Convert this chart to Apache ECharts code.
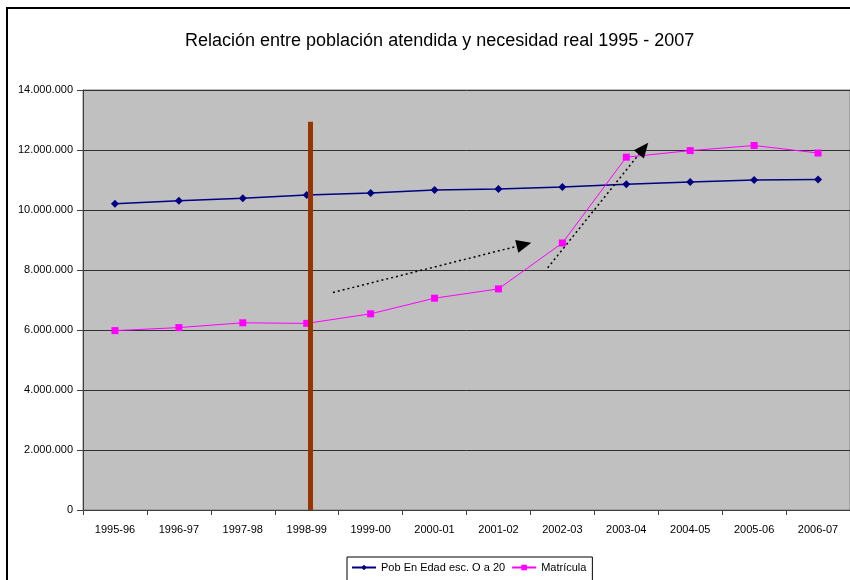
<!DOCTYPE html>
<html><head><meta charset="utf-8">
<script src="https://cdn.jsdelivr.net/npm/echarts@6/dist/echarts.min.js"></script>
<style>html,body{margin:0;padding:0;background:#fff}#c{width:850px;height:580px}</style>
</head><body><div id="c"></div>
<script>
var titleText = 'Relación entre población atendida y necesidad real 1995 - 2007';
var categories = ['1995-96','1996-97','1997-98','1998-99','1999-00','2000-01','2001-02','2002-03','2003-04','2004-05','2005-06','2006-07'];
var pobName = 'Pob En Edad esc. O a 20';
var pobValues = [10210000,10310000,10390000,10500000,10570000,10670000,10700000,10770000,10860000,10930000,11000000,11020000];
var matName = 'Matrícula';
var matValues = [5980000,6080000,6240000,6220000,6540000,7060000,7370000,8900000,11760000,11980000,12150000,11900000];
var yTicks = [0,2000000,4000000,6000000,8000000,10000000,12000000,14000000];
// annotations in (category-position, value) units; category i is centred at i+0.5
var brownBar = [[3.55,0],[3.55,12940000]];
var arrow1 = [[3.91,7250000],[6.90,8850000]];
var arrow2 = [[7.27,8070000],[8.77,12050000]];

function fmt(v){ return String(v).replace(/\B(?=(\d{3})+(?!\d))/g,'.'); }

var chart = echarts.init(document.getElementById('c'), null, {renderer:'canvas'});
var font = 'Liberation Sans, Arial, sans-serif';
chart.setOption({
  animation:false,
  backgroundColor:'#ffffff',
  textStyle:{fontFamily:font},
  title:{text:titleText,left:180,top:27,
    textStyle:{fontFamily:font,fontSize:18,fontWeight:'normal',color:'#000'}},
  graphic:[{type:'rect',shape:{x:7,y:8,width:880,height:620},style:{fill:null,stroke:'#000',lineWidth:2},z:-1}],
  legend:{left:347,top:557,itemWidth:24,itemHeight:7,itemGap:6,padding:[5,6,12,4],
    borderColor:'#000',borderWidth:1,backgroundColor:'#fff',
    textStyle:{fontSize:11,color:'#000',fontFamily:font},
    data:[pobName,matName]},
  grid:{left:83,right:-5,top:90,bottom:70,show:true,backgroundColor:'#c0c0c0',borderColor:'#808080',borderWidth:1},
  xAxis:[{type:'category',data:categories,boundaryGap:true,
    axisLine:{lineStyle:{color:'#404040',width:1}},
    axisTick:{show:true,length:5,lineStyle:{color:'#404040'}},
    axisLabel:{color:'#000',fontSize:11,margin:14,fontFamily:font,interval:0},
    splitLine:{show:false}},
   {type:'value',min:0,max:12,show:false}],
  yAxis:{type:'value',min:0,max:14000000,interval:2000000,
    axisLine:{show:true,lineStyle:{color:'#404040'}},
    axisTick:{show:true,length:6,inside:false,lineStyle:{color:'#404040'}},
    axisLabel:{color:'#000',fontSize:11,margin:10,fontFamily:font,formatter:function(v){return fmt(v);}},
    splitLine:{show:true,lineStyle:{color:'#303030',width:1}}},
  series:[
    {name:pobName,type:'line',data:pobValues,symbol:'diamond',symbolSize:8,
      itemStyle:{color:'#000080'},lineStyle:{color:'#000080',width:1.5},z:3},
    {name:matName,type:'line',data:matValues,symbol:'rect',symbolSize:7,
      itemStyle:{color:'#ff00ff'},lineStyle:{color:'#ff00ff',width:1},z:4},
    {type:'line',xAxisIndex:1,data:[],silent:true,z:6,
      markLine:{silent:true,symbol:['none','none'],animation:false,
        lineStyle:{color:'#993300',width:5,type:'solid'},label:{show:false},
        data:[[{coord:brownBar[0]},{coord:brownBar[1]}]]}},
    {type:'line',xAxisIndex:1,data:[],silent:true,z:5,
      markLine:{silent:true,symbol:['none','triangle'],symbolSize:[13,15],animation:false,
        lineStyle:{color:'#000',width:1.5,type:[2,3]},label:{show:false},
        data:[[{coord:arrow1[0]},{coord:arrow1[1]}],[{coord:arrow2[0]},{coord:arrow2[1]}]]}}
  ]
});
</script></body></html>
